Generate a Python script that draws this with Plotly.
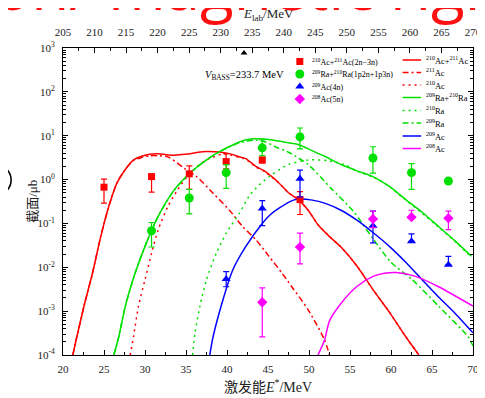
import plotly.graph_objects as go

# ---------------- data ----------------
# experimental points: excitation energy E* (MeV), cross section (microbarn), error-bar ends
ac23_E = [25.0, 30.8, 35.4, 39.9, 44.3, 48.9]
ac23_y = [0.67, 1.17, 1.35, 2.57, 2.8, 0.35]
ac23_hi = [1.02, 1.3, 2.05, 3.9, 3.2, 0.53]
ac23_lo = [0.29, 0.52, 0.6, 1.75, 2.4, 0.16]

ra_E = [30.8, 35.4, 39.9, 44.3, 48.9, 57.8, 62.5, 67.0]
ra_y = [0.068, 0.38, 1.44, 5.3, 9.4, 3.1, 1.44, 0.93]
ra_hi = [0.105, 0.6, 2.2, 8.0, 15.0, 5.6, 2.3, 0.93]
ra_lo = [0.029, 0.166, 0.63, 3.5, 5.0, 1.4, 0.6, 0.93]

ac4_E = [39.9, 44.3, 48.9, 57.8, 62.5, 67.0]
ac4_y = [0.0054, 0.22, 1.05, 0.089, 0.039, 0.0114]
ac4_hi = [0.008, 0.33, 1.65, 0.19, 0.058, 0.0178]
ac4_lo = [0.0036, 0.089, 0.4, 0.036, 0.039, 0.0114]

ac5_E = [44.3, 48.9, 57.8, 62.5, 67.0]
ac5_y = [0.0016, 0.029, 0.127, 0.139, 0.132]
ac5_hi = [0.0034, 0.06, 0.19, 0.2, 0.19]
ac5_lo = [0.00026, 0.012, 0.08, 0.139, 0.072]

# calculated curves
c_acsum_E = [21.2, 21.6, 22.6, 23.6, 24.6, 25.6, 26.6, 27.6, 28.6, 29.6, 30.6, 31.6, 32.6, 33.6,
             34.5, 35.5, 36.5, 37.5, 38.5, 39.5, 40.5, 41.5, 42.3, 43.5, 44.5, 45.5, 46.3, 47.5,
             48.7, 49.9, 51.1, 52.5, 53.9, 55.8, 57.8, 59.8, 61.8, 63.4]
c_acsum_y = [1e-4, 2.2e-4, 1.4e-3, 7.4e-3, 0.05, 0.25, 0.85, 1.7, 2.8, 3.4, 3.8, 3.9, 3.7, 3.6,
             3.75, 3.9, 4.2, 4.35, 4.3, 4.15, 3.8, 3.3, 3.0, 2.0, 1.6, 1.15, 0.85, 0.5,
             0.35, 0.2, 0.093, 0.05, 0.029, 0.011, 3.1e-3, 9.5e-4, 2.6e-4, 1e-4]

c_ac211_E = [21.2, 21.6, 22.6, 23.6, 24.6, 25.6, 26.6, 27.6, 28.6, 29.6, 30.6, 31.6, 32.8, 34.8,
             36.3, 38.3, 40.3, 41.9, 43.5, 45.1, 46.7, 47.9, 49.9, 51.9, 52.5]
c_ac211_y = [1e-4, 2.2e-4, 1.4e-3, 7.4e-3, 0.05, 0.25, 0.85, 1.7, 2.7, 3.2, 3.5, 3.5, 3.3, 1.8,
             1.17, 0.49, 0.2, 0.085, 0.043, 0.018, 7.4e-3, 3.6e-3, 1.07e-3, 2.2e-4, 1e-4]

c_ac210_E = [28.2, 28.6, 29.2, 30.0, 30.8, 31.6, 32.8, 34.0, 35.5, 37.5, 39.5, 40.5, 41.5, 42.3,
             43.5, 44.5, 45.5, 46.3, 47.5, 48.7, 49.9, 51.1, 52.5, 53.9, 55.8, 57.8, 59.8, 61.8, 63.4]
c_ac210_y = [1e-4, 2.6e-4, 1.3e-3, 5.2e-3, 0.021, 0.071, 0.245, 0.59, 1.41, 2.8, 3.8, 3.6, 3.2, 2.9,
             1.95, 1.55, 1.13, 0.84, 0.5, 0.35, 0.2, 0.093, 0.05, 0.029, 0.011, 3.1e-3, 9.5e-4, 2.6e-4, 1e-4]

c_rasum_E = [26.2, 26.8, 27.6, 28.8, 30.0, 31.6, 33.6, 35.5, 37.5, 39.5, 40.5, 41.5, 42.5, 43.5,
             44.5, 45.9, 47.3, 48.7, 49.9, 51.9, 53.9, 55.8, 57.8, 59.8, 61.8, 63.8, 65.8, 67.8, 69.8]
c_rasum_y = [1e-4, 2.6e-4, 1.3e-3, 7.4e-3, 0.03, 0.145, 0.59, 1.41, 2.8, 4.8, 5.9, 7.2, 8.2, 8.5,
             8.4, 7.8, 7.0, 6.3, 5.0, 3.4, 2.2, 1.6, 1.17, 0.7, 0.35, 0.18, 0.085, 0.04, 0.018]

c_ra210_E = [35.8, 36.1, 36.7, 37.5, 38.7, 39.9, 41.5, 42.7, 43.9, 45.5, 47.5, 49.9, 52.3, 54.6,
             55.8, 57.8, 59.8, 61.8, 63.8, 65.8, 67.8, 69.8]
c_ra210_y = [1e-4, 3.2e-4, 1.3e-3, 5.2e-3, 0.021, 0.06, 0.17, 0.42, 0.75, 1.3, 2.2, 2.8, 2.7, 2.1,
             1.55, 1.15, 0.69, 0.34, 0.17, 0.082, 0.039, 0.017]

c_ra209_E = [26.2, 26.8, 27.6, 28.8, 30.0, 31.6, 33.6, 35.5, 37.5, 39.5, 41.5, 43.5, 44.7, 45.9,
             47.5, 49.9, 52.7, 55.4, 57.8, 60.0, 62.6, 65.8, 69.4, 70.0]
c_ra209_y = [1e-4, 2.6e-4, 1.3e-3, 7.4e-3, 0.03, 0.145, 0.59, 1.41, 2.8, 4.7, 6.9, 7.9, 7.2, 5.6,
             4.2, 2.2, 0.63, 0.19, 0.045, 0.013, 5.2e-3, 1.3e-3, 2.6e-4, 1.6e-4]

c_ac209_E = [37.9, 38.3, 39.5, 40.7, 42.3, 44.3, 45.3, 46.3, 48.1, 48.9, 50.4, 51.9, 53.9, 55.8,
             57.8, 59.8, 61.8, 63.8, 65.8, 67.8, 70.0]
c_ac209_y = [1e-4, 2.6e-4, 1.8e-3, 8.7e-3, 0.03, 0.1, 0.16, 0.22, 0.34, 0.36, 0.34, 0.29, 0.2, 0.12,
             0.062, 0.03, 0.013, 5.2e-3, 2.1e-3, 9e-4, 3.2e-4]

c_ac208_E = [51.1, 51.9, 52.5, 53.9, 55.8, 57.8, 59.2, 60.6, 63.0, 65.8, 70.0]
c_ac208_y = [1e-4, 2.2e-4, 6e-4, 1.5e-3, 3.6e-3, 6.2e-3, 7.3e-3, 7.6e-3, 6.2e-3, 3.6e-3, 1.3e-3]

v_bass = 233.7
x_ticks = [20, 25, 30, 35, 40, 45, 50, 55, 60, 65, 70]
top_ticks = [205, 210, 215, 220, 225, 230, 235, 240, 245, 250, 255, 260, 265, 270]
y_ticks = [1e-4, 1e-3, 1e-2, 1e-1, 1e0, 1e1, 1e2, 1e3]
y_ticktext = ["10<sup>-4</sup>", "10<sup>-3</sup>", "10<sup>-2</sup>", "10<sup>-1</sup>",
              "10<sup>0</sup>", "10<sup>1</sup>", "10<sup>2</sup>", "10<sup>3</sup>"]

RED, GREEN, BLUE, MAG = "#ff0000", "#00e000", "#0000ff", "#ff00ff"
SERIF = "Liberation Serif, Noto Sans CJK SC"

fig = go.Figure()

def curve(E, y, color, dash):
    fig.add_trace(go.Scatter(x=E, y=y, mode="lines", showlegend=False,
                             line=dict(color=color, width=1.5, dash=dash, shape="spline", smoothing=0.7)))

DD = "6px,3px,2px,3px"
DOT = "2px,4px"
curve(c_ac211_E, c_ac211_y, RED, DD)
curve(c_ac210_E, c_ac210_y, RED, DOT)
curve(c_acsum_E, c_acsum_y, RED, "solid")
curve(c_ra210_E, c_ra210_y, GREEN, DOT)
curve(c_ra209_E, c_ra209_y, GREEN, DD)
curve(c_rasum_E, c_rasum_y, GREEN, "solid")
curve(c_ac209_E, c_ac209_y, BLUE, "solid")
curve(c_ac208_E, c_ac208_y, MAG, "solid")

def points(E, y, hi, lo, color, symbol, size):
    fig.add_trace(go.Scatter(
        x=E, y=y, mode="markers", showlegend=False,
        marker=dict(color=color, symbol=symbol, size=size),
        error_y=dict(type="data", symmetric=False,
                     array=[h - v for h, v in zip(hi, y)],
                     arrayminus=[v - l for v, l in zip(y, lo)],
                     color=color, thickness=1.2, width=3)))

points(ac23_E, ac23_y, ac23_hi, ac23_lo, RED, "square", 7)
points(ra_E, ra_y, ra_hi, ra_lo, GREEN, "circle", 9)
points(ac4_E, ac4_y, ac4_hi, ac4_lo, BLUE, "triangle-up", 8)
points(ac5_E, ac5_y, ac5_hi, ac5_lo, MAG, "diamond", 8)

# V_Bass marker on the top (E_lab) axis
fig.add_trace(go.Scatter(x=[v_bass], y=[770], xaxis="x2", yaxis="y", mode="markers",
                         showlegend=False, marker=dict(symbol="triangle-up", size=6, color="black")))

# ---------------- manual legends (window-pixel frame axes) ----------------
leg1 = [("<sup>210</sup>Ac+<sup>211</sup>Ac(2n−3n)", RED, "square", 7),
        ("<sup>209</sup>Ra+<sup>210</sup>Ra(1p2n+1p3n)", GREEN, "circle", 9),
        ("<sup>209</sup>Ac(4n)", BLUE, "triangle-up", 8),
        ("<sup>208</sup>Ac(5n)", MAG, "diamond", 8)]
leg1_rows = [61.5, 74, 86.5, 99]
leg2 = [("<sup>210</sup>Ac+<sup>211</sup>Ac", RED, "solid"),
        ("<sup>211</sup>Ac", RED, DD),
        ("<sup>210</sup>Ac", RED, DOT),
        ("<sup>209</sup>Ra+<sup>210</sup>Ra", GREEN, "solid"),
        ("<sup>210</sup>Ra", GREEN, DOT),
        ("<sup>209</sup>Ra", GREEN, DD),
        ("<sup>209</sup>Ac", BLUE, "solid"),
        ("<sup>208</sup>Ac", MAG, "solid")]
leg2_rows = [60, 72.5, 85, 97.5, 110.5, 123, 136, 148.5]

annotations = []
for (txt, col, sym, sz), yy in zip(leg1, leg1_rows):
    fig.add_trace(go.Scatter(x=[305], y=[yy], xaxis="x3", yaxis="y3", mode="markers",
                             showlegend=False, marker=dict(color=col, symbol=sym, size=sz)))
    annotations.append(dict(x=315, y=yy, xref="x3", yref="y3", text=txt, showarrow=False,
                            xanchor="left", yanchor="middle", font=dict(size=8, family=SERIF, color="black")))
for (txt, col, dash), yy in zip(leg2, leg2_rows):
    fig.add_trace(go.Scatter(x=[410, 429], y=[yy, yy], xaxis="x3", yaxis="y3", mode="lines",
                             showlegend=False, line=dict(color=col, width=1.5, dash=dash)))
    annotations.append(dict(x=432, y=yy, xref="x3", yref="y3", text=txt, showarrow=False,
                            xanchor="left", yanchor="middle", font=dict(size=8.5, family=SERIF, color="black")))

annotations += [
    dict(x=206, y=75, xref="x3", yref="y3", xanchor="left", yanchor="middle", showarrow=False,
         text="<i>V</i><sub>BASS</sub>=233.7 MeV", font=dict(size=10.5, family=SERIF, color="black")),
    dict(x=-0.098, y=0.5, xref="paper", yref="paper", textangle=-90, showarrow=False,
         text="截面/μb", font=dict(size=13, family=SERIF, color="#222")),
    dict(x=0.5, y=-0.1, xref="paper", yref="paper", showarrow=False, yanchor="middle",
         text="激发能<i>E</i><sup>*</sup>/MeV", font=dict(size=14, family=SERIF, color="#222")),
    dict(x=0.5, y=1.11, xref="paper", yref="paper", showarrow=False, yanchor="middle",
         text="<i>E</i><sub>lab</sub>/MeV", font=dict(size=13, family=SERIF, color="#222")),
    # partially visible slide title above the chart
    dict(x=-0.174, y=1.0586, xref="paper", yref="paper", showarrow=False, xanchor="left",
         yanchor="bottom", text="on/ magnetic rigidity",
         font=dict(size=62, family="Open Sans", color="#ff1010")),
]

axis_common = dict(showline=True, linecolor="black", linewidth=1, ticks="inside",
                   tickcolor="black", showgrid=False, zeroline=False, ticklabeloverflow="allow",
                   tickfont=dict(size=11, family=SERIF, color="#222"))

minor_y = [m * 10 ** k for k in range(-4, 3) for m in range(2, 10)]

# the page body adds an 8px offset; figure is sized so the plot frame lands at x 63-482, y 48-355
fig.update_layout(
    width=477, height=390,
    margin=dict(l=55, r=3, t=40, b=43),
    paper_bgcolor="white", plot_bgcolor="white",
    showlegend=False,
    xaxis=dict(range=[20, 70], tickvals=x_ticks, ticklen=5, ticklabelstandoff=4,
               minor=dict(dtick=2.5, ticks="inside", ticklen=3, tickcolor="black"), **axis_common),
    xaxis2=dict(range=[205, 270], tickvals=top_ticks, overlaying="x", side="top", anchor="y",
                ticklen=5, ticklabelstandoff=7,
                minor=dict(dtick=2.5, ticks="inside", ticklen=3, tickcolor="black"),
                **axis_common),
    yaxis=dict(type="log", range=[-4, 3], tickvals=y_ticks, ticktext=y_ticktext, ticklen=5,
               mirror="ticks", ticklabelstandoff=5,
               minor=dict(tickvals=minor_y, ticks="inside", ticklen=3, tickcolor="black"),
               **axis_common),
    xaxis3=dict(range=[63, 482], overlaying="x", anchor="y3", visible=False),
    yaxis3=dict(range=[355, 48], overlaying="y", anchor="x3", visible=False),
    annotations=annotations,
    shapes=[dict(type="circle", xref="paper", yref="paper",
                 x0=(-20 - 63) / 419, x1=(10 - 63) / 419,
                 y0=(355 - 195) / 307, y1=(355 - 165) / 307,
                 line=dict(color="black", width=1.5))],
)

fig.write_html("out.html")
